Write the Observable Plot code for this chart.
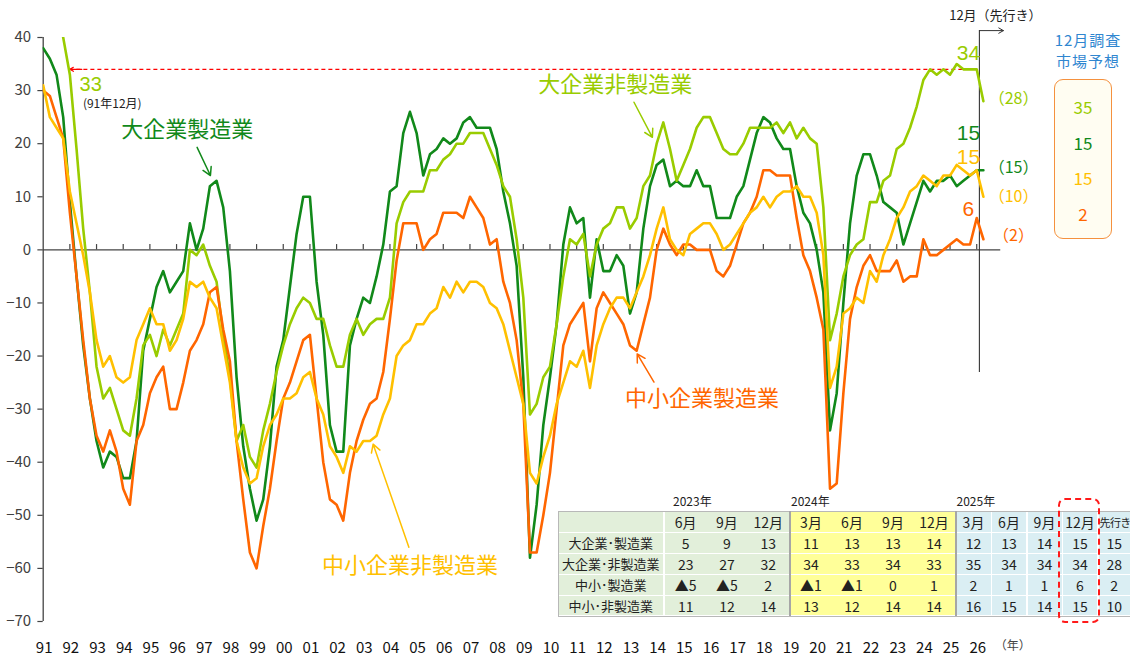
<!DOCTYPE html>
<html><head><meta charset="utf-8">
<script src="https://cdn.jsdelivr.net/npm/d3@7"></script>
<script src="https://cdn.jsdelivr.net/npm/@observablehq/plot@0.6"></script>
<style>
body{margin:0;background:#fff;}
#wrap{position:relative;width:1130px;height:656px;overflow:hidden;font-family:"Noto Sans CJK JP","Noto Sans",sans-serif;color:#222;}
#wrap svg{position:absolute;left:0;top:0;}
.abs{position:absolute;}
.cell{position:absolute;display:flex;align-items:center;justify-content:center;white-space:nowrap;font-size:14px;color:#222;}
.yr{position:absolute;font-size:12px;color:#222;line-height:14px;}
</style></head>
<body><div id="wrap"></div>
<script>
// ---- quarterly Tankan DI, 1990年12月 .. 2025年12月 + 先行き (last value) ----
const firstYear = 1991;          // 1990年12月調査 sits on the "91" tick
const quarter = 0.25;
const largeMfg = [38,36,33,25, 9,-5,-18,-28, -36,-41,-38,-39, -43,-43,-36,-19, -13,-7,-4,-8, -6,-4,5,0,
  4,12,13,8, -4,-24,-37,-45, -51,-47,-37,-22, -17,-7,3,10, 10,-6,-16,-33, -38,-38,-18,-13, -9,-10,-5,1,
  11,12,22,26, 22,14,18,19, 21,20,21,24, 25,23,23,23, 19,11,5,-3, -24,-58,-48,-33, -24,-14,1,8,
  5,6,-9,2, -4,-4,-1,-3, -12,-8,4,12, 16,17,12,13, 12,12,15,12, 12,6,6,6, 10,12,17,22,
  25,24,21,19, 19,12,7,5, 0,-8,-34,-27, -10,5,14,18, 18,14,9,8, 7,1,5,9, 13,11,13,13, 14,12,13,14, 15,15];
const largeNonMfg = [52,50,46,40, 33,19,4,-8, -22,-28,-26,-30, -34,-35,-28,-18, -16,-20,-15,-18, -15,-12,0,-1,
  1,-3,-6,-16, -24,-36,-33,-39, -41,-34,-29,-23, -18,-14,-11,-9, -10,-13,-13,-18, -22,-22,-16,-13, -16,-14,-13,-13,
  -9,5,9,11, 11,11,15,15, 17,18,20,20, 22,22,22,19, 16,12,10,2, -9,-31,-29,-24, -22,-14,-5,2,
  1,3,-5,1, 4,5,8,8, 4,6,12,14, 20,24,19,13, 16,19,23,25, 25,22,19,18, 18,20,23,23,
  23,23,24,22, 24,21,23,21, 20,8,-17,-12, -5,-1,1,2, 9,9,13,14, 19,20,23,27, 32,34,33,34, 33,35,34,34, 34,28];
const smallMfg = [30,29,25,21, 7,-5,-17,-28, -35,-38,-34,-38, -45,-48,-36,-33, -27,-24,-22,-30, -30,-25,-19,-17,
  -14,-8,-7,-15, -21,-36,-47,-57, -60,-52,-45,-36, -28,-25,-21,-17, -16,-28,-40,-47, -48,-51,-42,-36, -32,-29,-28,-23,
  -13,-2,5,5, 5,0,2,3, 7,7,7,6, 10,8,6,1, 2,-6,-10,-17, -29,-57,-57,-50, -42,-30,-18,-14,
  -12,-10,-21,-11, -8,-10,-12,-14, -18,-19,-14,-9, 0,4,1,-1, 1,1,0,0, 0,-4,-5,-3, 1,5,7,10,
  15,15,14,14, 14,6,-1,-4, -9,-15,-45,-44, -27,-13,-7,-3, -1,-4,-4,-4, -2,-6,-5,-5, 2,-1,-1,0, 1,2,1,1, 6,2];
const smallNonMfg = [31,25,23,21, 11,5,-1,-8, -17,-22,-20,-24, -25,-24,-17,-14, -11,-14,-14,-19, -17,-13,-6,-7,
  -6,-9,-11,-18, -25,-36,-41,-44, -43,-37,-33,-31, -28,-28,-27,-24, -23,-28,-31,-37, -39,-42,-37,-38, -36,-36,-35,-31,
  -28,-20,-18,-17, -14,-14,-12,-11, -7,-9,-6,-8, -6,-6,-7,-10, -11,-14,-19,-24, -29,-42,-44,-39, -35,-29,-25,-21,
  -22,-19,-26,-18, -14,-11,-9,-9, -11,-8,-5,-1, 4,8,2,0, -1,3,4,5, 5,3,0,1, 3,5,7,8,
  10,8,10,11, 11,12,10,10, 7,-1,-26,-22, -12,-11,-9,-10, -4,-6,-1,2, 6,8,11,12, 14,13,12,14, 14,16,15,14, 15,10];

const seriesNames = ["大企業製造業","大企業非製造業","中小企業製造業","中小企業非製造業"];
const tableLabels = ["大企業･製造業","大企業･非製造業","中小･製造業","中小･非製造業"];
const colors = {g:"#11891a", ln:"#99cc00", sm:"#ff6600", sn:"#ffc000"};
const marketForecast = [35, 15, 15, 2];        // 大企業非製造業, 大企業製造業, 中小非製造業, 中小製造業
const marketTitle = ["12月調査", "市場予想"];
const yTicks = [40,30,20,10,0,-10,-20,-30,-40,-50,-60,-70];
const yearTicks = d3.range(1991, 2027);
const tableMonths = ["6月","9月","12月","3月","6月","9月","12月","3月","6月","9月","12月","先行き"];
const tableYears = ["2023年","2024年","2025年"];
const tableStart = 130;  // index of 2023年6月

const FONT = "'Noto Sans CJK JP','Noto Sans',sans-serif";
const NUMFONT = "'Liberation Sans','Noto Sans',sans-serif";
const toRows = vals => vals.map((v,i)=>({t: firstYear + i*quarter, v}));
const series = [
  {name: seriesNames[0], vals: largeMfg, color: colors.g},
  {name: seriesNames[1], vals: largeNonMfg, color: colors.ln},
  {name: seriesNames[2], vals: smallMfg, color: colors.sm},
  {name: seriesNames[3], vals: smallNonMfg, color: colors.sn}
];
const last = a => a[a.length-2];
const fc = a => a[a.length-1];
const fmtY = d => d < 0 ? "−" + (-d) : String(d);
const T = i => firstYear + i*quarter;
const lastT = T(largeMfg.length - 2);

// annotation placements (data units)
const seriesLabels = [
  {text: seriesNames[0], t: 1996.4, v: 22.6, color: colors.g, w: "bold"},
  {text: seriesNames[1], t: 2012.45, v: 31.0, color: colors.ln, w: "bold"},
  {text: seriesNames[2], t: 2015.7, v: -28.0, color: colors.sm, w: "500"},
  {text: seriesNames[3], t: 2004.75, v: -59.5, color: colors.sn, w: "normal"}
];
const labelArrows = [
  {x1: 1996.77, y1: 19.3, x2: 1997.27, y2: 14.0, color: colors.g},
  {x1: 2013.15, y1: 27.8, x2: 2013.84, y2: 21.2, color: colors.ln},
  {x1: 2013.90, y1: -24.9, x2: 2013.27, y2: -19.6, color: colors.sm},
  {x1: 2004.71, y1: -56.0, x2: 2003.37, y2: -36.6, color: colors.sn}
];
const endLabels = [
  {text: String(last(largeNonMfg)), v: 37.0, color: colors.ln},
  {text: String(last(largeMfg)), v: 21.9, color: colors.g},
  {text: String(last(smallNonMfg)), v: 17.5, color: colors.sn},
  {text: String(last(smallMfg)), v: 7.7, color: colors.sm}
];
const fcLabels = [
  {text: "（" + fc(largeNonMfg) + "）", v: 28.4, color: colors.ln},
  {text: "（" + fc(largeMfg) + "）", v: 15.5, color: colors.g},
  {text: "（" + fc(smallNonMfg) + "）", v: 9.9, color: colors.sn},
  {text: "（" + fc(smallMfg) + "）", v: 2.7, color: colors.sm}
];
const peakRef = largeNonMfg[4];   // 91年12月
const peakNow = last(largeNonMfg);
const divider = lastT + 0.1;

const marks = [
  // axes
  Plot.ruleX([firstYear], {y1: -70, y2: 40, stroke: "#444", strokeWidth: 1.3}),
  Plot.ruleY(yTicks, {x1: firstYear - 0.2, x2: firstYear, y: d => d, stroke: "#444", strokeWidth: 1.2}),
  Plot.text(yTicks, {x: firstYear, y: d => d, text: fmtY, textAnchor: "end", dx: -12, fontSize: 15, fill: "#404040"}),
  Plot.ruleY([0], {x1: firstYear, x2: 2026.9, stroke: "#444", strokeWidth: 1.3}),
  Plot.ruleX(yearTicks.slice(1), {x: d => d, y1: 0, y2: 1.0, stroke: "#444", strokeWidth: 1.2}),
  Plot.text(yearTicks, {x: d => d, y: -70, dy: 27, dx: 1, text: d => String(d % 100).padStart(2, "0"), fontSize: 15, fill: "#111"}),
  Plot.text(["（年）"], {x: 2027.35, y: -70, dy: 25, text: d => d, fontSize: 12, fill: "#444"}),
  // reference dashed line
  Plot.ruleY([peakNow], {x1: T(4), x2: lastT + 0.05, stroke: "#ff0000", strokeWidth: 1.2, strokeDasharray: "4,3"}),
  Plot.arrow([peakNow], {x1: T(4) + 0.45, x2: T(4), y1: d => d, y2: d => d, stroke: "#ff0000", strokeWidth: 1.2, headLength: 11}),
  Plot.text([peakRef], {x: 1992.78, y: 31.2, text: d => String(d), fill: colors.ln, fontSize: 20, fontFamily: NUMFONT}),
  Plot.text(["(91年12月)"], {x: 1993.59, y: 27.4, text: d => d, fill: "#222", fontSize: 12}),
  // forecast divider
  Plot.ruleX([divider], {y1: -23.1, y2: 41.3, stroke: "#333", strokeWidth: 1.1}),
  Plot.arrow([divider], {x1: d => d, x2: 2027.0, y1: 41.3, y2: 41.3, stroke: "#333", strokeWidth: 1, headLength: 8}),
  Plot.text(["12月（先行き）"], {x: 2026.7, y: 44.1, text: d => d, fontSize: 13, fill: "#222"}),
  // series lines
  ...series.map(s => Plot.line(toRows(s.vals), {x: "t", y: "v", stroke: s.color, strokeWidth: 2.6, strokeLinejoin: "round", clip: true})),
  // labels
  Plot.text(seriesLabels, {x: "t", y: "v", text: "text", fill: d => d.color, fontSize: 22, fontWeight: d => d.w, stroke: "white", strokeWidth: 3, paintOrder: "stroke"}),
  Plot.arrow(labelArrows, {x1: "x1", y1: "y1", x2: "x2", y2: "y2", stroke: d => d.color, strokeWidth: 1.5, headLength: 9}),
  Plot.text(endLabels, {x: 2025.69, y: "v", text: "text", fill: d => d.color, fontSize: 21, fontFamily: NUMFONT}),
  Plot.text(fcLabels, {x: 2027.38, y: "v", text: "text", fill: d => d.color, fontSize: 16})
];

const chart = Plot.plot({
  width: 1130, height: 656,
  marginLeft: 42.7, marginRight: 127.1, marginTop: 37, marginBottom: 35,
  x: {domain: [1991, 2027], axis: null},
  y: {domain: [-70, 40], axis: null},
  color: {type: "identity"},
  style: {fontFamily: FONT, fontSize: "15px", background: "transparent", overflow: "visible"},
  marks
});
const wrap = document.getElementById("wrap");
wrap.appendChild(chart);

// ---- market forecast box ----
marketTitle.forEach((s, k) => {
  const d = document.createElement("div");
  d.className = "abs";
  Object.assign(d.style, {left: "1046px", top: (31 + k*21) + "px", width: "84px", textAlign: "center", color: "#2f86d0", fontSize: "15px", lineHeight: "18px", letterSpacing: "1px"});
  d.textContent = s;
  wrap.appendChild(d);
});
const box = document.createElement("div");
box.className = "abs";
Object.assign(box.style, {left: "1054px", top: "79px", width: "56px", height: "158px", border: "1.6px solid #f5913e", borderRadius: "9px", background: "#fffdf2"});
wrap.appendChild(box);
const mfColors = [colors.ln, colors.g, colors.sn, colors.sm];
marketForecast.forEach((v, k) => {
  const d = document.createElement("div");
  d.className = "abs";
  Object.assign(d.style, {left: "1054px", width: "58px", top: (96 + k*35.5) + "px", textAlign: "center", fontSize: "17px", lineHeight: "22px", color: mfColors[k]});
  d.textContent = String(v);
  wrap.appendChild(d);
});

// ---- table ----
const tableVals = [largeMfg, largeNonMfg, smallMfg, smallNonMfg].map(a => a.slice(tableStart));
const fmtT = v => v < 0 ? "▲" + (-v) : String(v);
const groups = [
  {n: 3, x: 665, w: 41.3, bg: "#e2efda", sep: 0},
  {n: 4, x: 790.5, w: 41, bg: "#ffff99", sep: 0},
  {n: 5, x: 956.5, w: 35.5, bg: "#daeef3", sep: 1.5}
];
const cols = [];
groups.forEach(g => { for (let k = 0; k < g.n; k++) cols.push({x: g.x + k*g.w, w: g.w - g.sep, bg: g.bg}); });
const rowTop = [512, 533, 554.2, 575.2, 596];
const rowH = [21, 21.2, 21, 20.8, 19];
const outer = document.createElement("div");
outer.className = "abs";
Object.assign(outer.style, {left: "558px", top: "511px", width: "580px", height: "104px", border: "1px solid #b8b8b8", background: "#fff"});
wrap.appendChild(outer);
function cell(x, y, w, h, bg, text, fs, extra) {
  const d = document.createElement("div");
  d.className = "cell";
  Object.assign(d.style, {left: x + "px", top: y + "px", width: w + "px", height: h + "px", background: bg, fontSize: fs + "px"}, extra || {});
  d.textContent = text;
  wrap.appendChild(d);
}
for (let r = 0; r < 5; r++) {
  const h = rowH[r] - (r < 4 ? 1.4 : 0);
  cell(559, rowTop[r], 103.5, h, "#e2efda", r === 0 ? "" : tableLabels[r-1], 13);
  cols.forEach((c, k) => {
    const txt = r === 0 ? tableMonths[k] : fmtT(tableVals[r-1][k]);
    const lastCol = k === cols.length - 1;
    const extra = (r === 0 && lastCol) ? {justifyContent: "flex-start", paddingLeft: "1px", letterSpacing: "-0.6px", width: "31px"} : null;
    cell(c.x, rowTop[r], lastCol ? Math.min(c.w, 1130 - c.x) : c.w, h, c.bg, txt, (r === 0 && lastCol) ? 11 : 14, extra);
  });
}
[789.3, 955.3].forEach(x => {
  const d = document.createElement("div");
  d.className = "abs";
  Object.assign(d.style, {left: x + "px", top: "511px", width: "1.3px", height: "105px", background: "#a6a6a6"});
  wrap.appendChild(d);
});
[673, 791, 956.5].forEach((x, k) => {
  const d = document.createElement("div");
  d.className = "yr";
  Object.assign(d.style, {left: x + "px", top: "494px"});
  d.textContent = tableYears[k];
  wrap.appendChild(d);
});
const red = document.createElement("div");
red.className = "abs";
Object.assign(red.style, {left: "1058px", top: "498px", width: "38px", height: "121px", border: "2.5px dashed #ff1a1a", borderRadius: "7px"});
wrap.appendChild(red);
</script>
</body></html>
